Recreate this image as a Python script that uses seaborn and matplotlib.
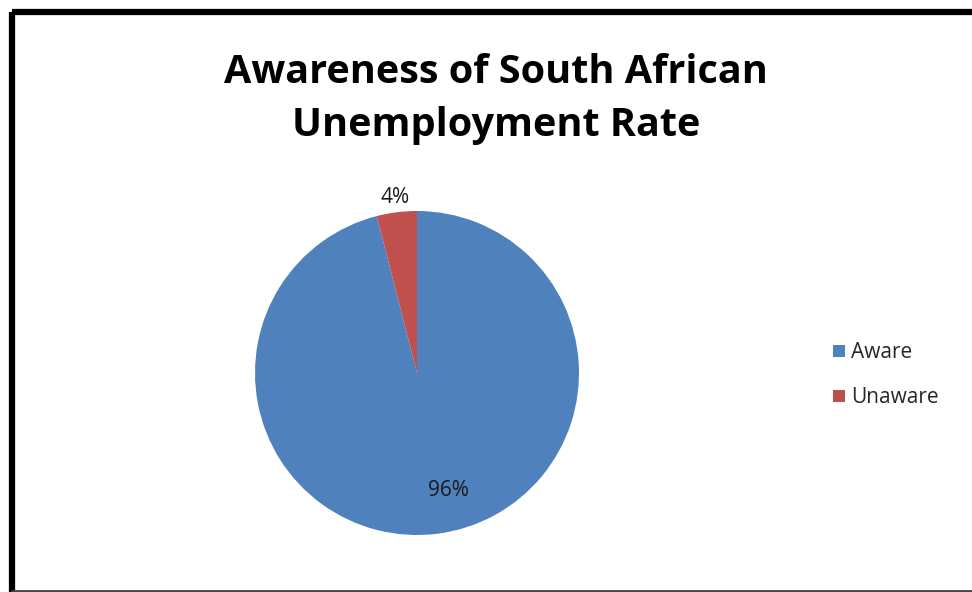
import numpy as np
import matplotlib
matplotlib.use("Agg")
import matplotlib.pyplot as plt
from matplotlib.lines import Line2D
import seaborn as sns

# Survey result
categories = ["Aware", "Unaware"]
shares = [96, 4]
title_text = "Awareness of South African\nUnemployment Rate"

sns.set_theme(style="white")
plt.rcParams["font.family"] = ["Open Sans", "DejaVu Sans"]

colors = ["#4F81BD", "#C0504D"]

W, H = 972, 592
fig = plt.figure(figsize=(W / 100, H / 100), dpi=100)
fig.patch.set_facecolor("white")

# pie axes: centre (417, 373) px, radius 162 px
cx, cy, r = 417, 373, 162
ax = fig.add_axes([(cx - r) / W, (H - cy - r) / H, 2 * r / W, 2 * r / H])
wedges, _, autotexts = ax.pie(
    shares,
    colors=colors,
    startangle=90,
    counterclock=False,
    autopct="%1.0f%%",
    pctdistance=0.74,
    wedgeprops=dict(linewidth=0),
    textprops=dict(fontsize=15, color="#1a1a1a"),
)
ax.set_xlim(-1, 1)
ax.set_ylim(-1, 1)
ax.set_aspect("equal")
ax.axis("off")

# label placement: radius and angular nudge (deg) per slice
label_radius = [0.75, 1.09]
label_nudge = [8.0, 0.0]
for w, t, rad, nd in zip(wedges, autotexts, label_radius, label_nudge):
    mid = np.deg2rad((w.theta1 + w.theta2) / 2 + nd)
    t.set_position((rad * np.cos(mid), rad * np.sin(mid)))
    t.set_clip_on(False)

fig.text(496 / W, 1 - 99 / H, title_text, ha="center", va="center",
         fontsize=28.5, fontweight="bold", color="black", linespacing=1.45)

handles = [Line2D([], [], marker="s", linestyle="none", markersize=9,
                  markerfacecolor=c, markeredgewidth=0) for c in colors]
fig.legend(handles, categories, loc="center left",
           bbox_to_anchor=(820 / W, 1 - 375 / H), frameon=False,
           fontsize=15, handletextpad=0.1, labelspacing=1.15,
           handlelength=1.0, borderaxespad=0)

# chart frame
frame = dict(transform=None, color="black", solid_capstyle="butt")
fig.add_artist(Line2D([12, W], [H - 12, H - 12], linewidth=4.5, **frame))
fig.add_artist(Line2D([12, 12], [0, H - 12], linewidth=4.5, **frame))
fig.add_artist(Line2D([12, W], [1.5, 1.5], linewidth=2, transform=None,
                      color="#444444"))

fig.savefig("out.png", dpi=100, facecolor="white")
